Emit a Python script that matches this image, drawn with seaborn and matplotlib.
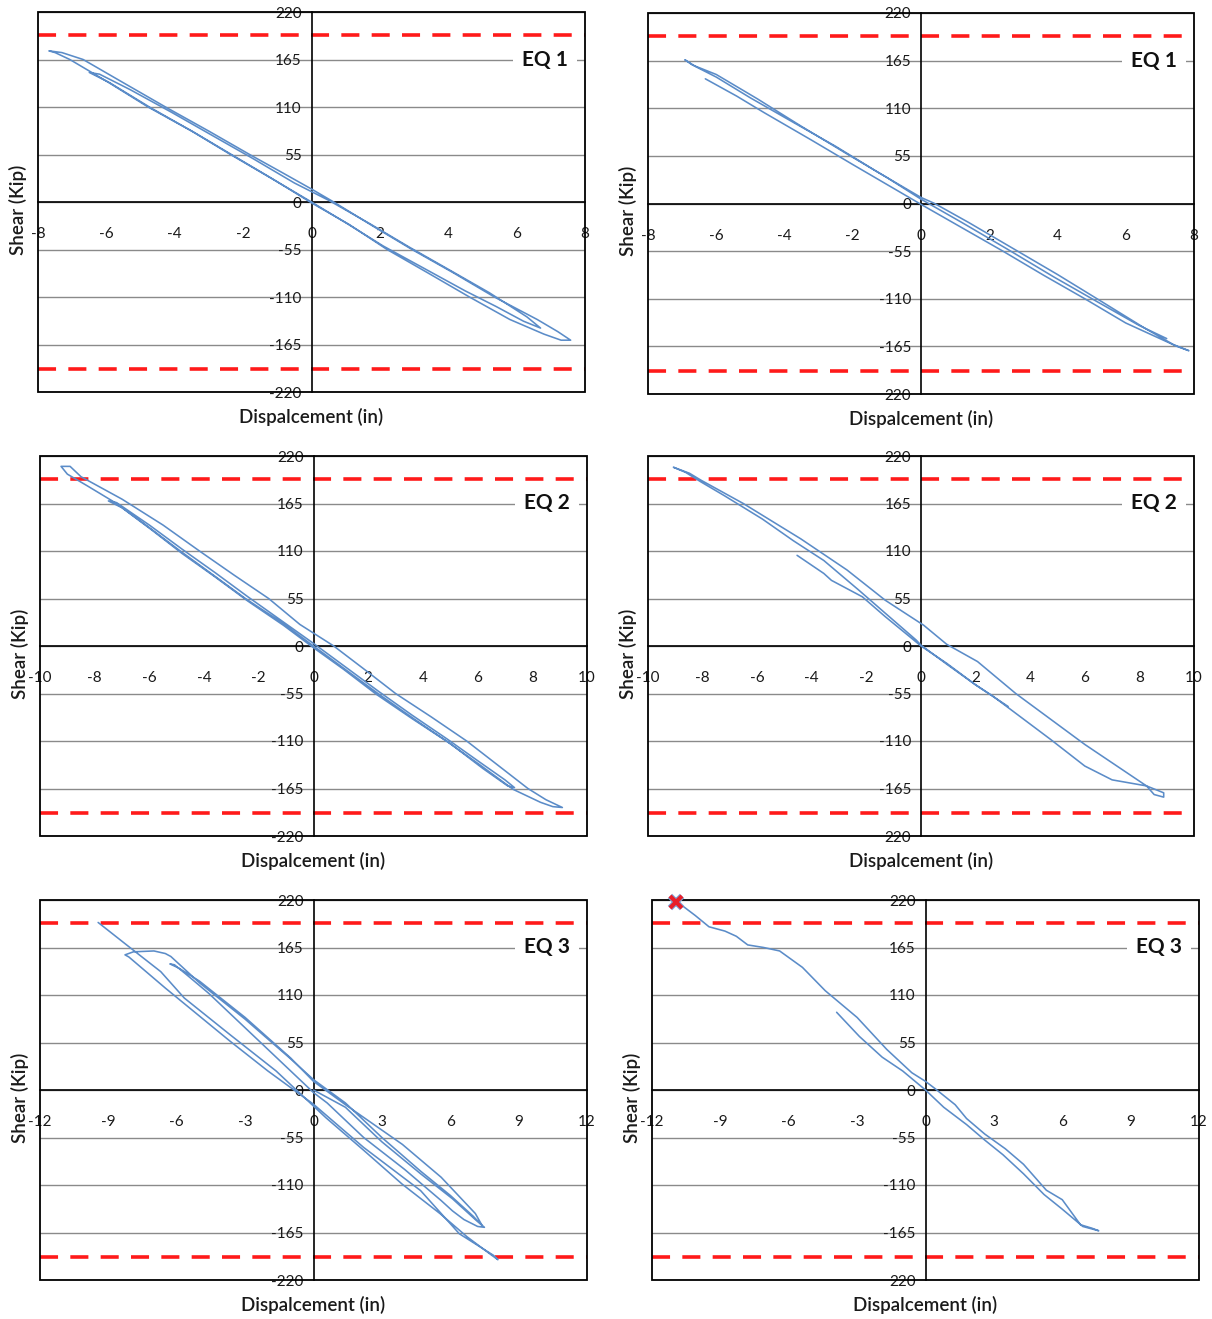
import numpy as np
import pandas as pd
import matplotlib
matplotlib.use("Agg")
import matplotlib.pyplot as plt
import matplotlib.patheffects as pe
from matplotlib.patches import Rectangle
from matplotlib.transforms import blended_transform_factory
import seaborn as sns

sns.set_theme(style="white")
plt.rcParams["font.family"] = ["Lato", "DejaVu Sans"]
plt.rcParams["axes.unicode_minus"] = False

# ---- hysteresis traces: displacement (in) / shear (kip) ----
eq1_left_disp = [0, -1.2, -2.37, -3.5, -4.78, -6.0, -7.07, -7.5, -7.68, -7.3, -6.68, -5.5, -4.27,
                 -3.0, -1.81, -0.9, 0, 0.65, 1.8, 2.94, 4.15, 5.35, 6.6, 7.2, 7.58, 7.3, 6.8,
                 5.8, 4.62, 3.4, 2.21, 1.1, 0, -1.15, -2.3, -3.45, -4.7, -5.9, -6.5, -6.2,
                 -5.3, -4.1, -2.9, -1.7, -0.5, 0.5, 1.7, 2.85, 4.05, 5.2, 6.3, 6.7, 6.2, 5.4,
                 4.5, 3.3, 2.1, 1.0, 0]
eq1_left_shear = [0, 28, 55, 82, 110, 140, 165, 173, 175, 173, 165, 138, 110,
                  82, 55, 35, 15, 0, -28, -55, -82, -110, -136, -150, -160, -160, -153,
                  -136, -110, -82, -55, -26, -1, 27, 54, 81, 109, 138, 150, 148,
                  130, 104, 77, 50, 22, 2, -25, -52, -79, -105, -133, -146, -138, -121,
                  -103, -77, -51, -24, 0]

eq1_right_disp = [-6.32, -5.4, -4.6, -3.2, -2.0, -1.0, 0, 1.2, 2.4, 3.6, 4.8, 6.0, 7.0, 7.5,
                  7.85, 7.4, 6.6, 5.2, 4.0, 2.7, 1.4, 0.4, 0, -1.3, -2.5, -3.8, -5.0, -6.0,
                  -6.6, -6.92, -6.7, -6.0, -4.8, -3.5, -2.2, -1.0, 0, 1.2, 2.5, 3.9, 5.1,
                  6.4, 7.2]
eq1_right_shear = [144, 124, 105, 73, 45, 22, -1, -28, -55, -83, -110, -138, -156, -165,
                   -170, -163, -145, -111, -82, -52, -22, 0, 7, 37, 66, 95, 122, 146,
                   158, 166, 160, 149, 121, 89, 58, 30, 5, -22, -52, -85, -112,
                   -141, -156]

eq2_left_disp = [0, -1.2, -2.49, -3.7, -4.87, -6.0, -7.2, -8.3, -9.0, -9.23, -8.9, -8.5, -7.0,
                 -5.5, -4.17, -2.9, -1.64, -0.5, 0.74, 1.9, 3.0, 4.3, 5.6, 6.7, 7.84, 8.5, 9.1,
                 8.75, 8.3, 7.3, 6.1, 4.9, 3.6, 2.3, 1.1, 0, -1.1, -2.4, -3.6, -4.8, -5.9,
                 -7.0, -7.5, -7.2, -6.0, -4.8, -3.6, -2.4, -1.2, 0, 1.2, 2.4, 3.6, 4.9, 6.1,
                 7.0, 7.35, 7.1, 6.2, 5.0, 3.7, 2.4, 1.2, 0]
eq2_left_shear = [0, 28, 55, 83, 110, 137, 165, 186, 199, 208, 208, 196, 170,
                  140, 110, 82, 55, 25, 0, -28, -55, -82, -110, -137, -165, -178, -187,
                  -186, -181, -166, -138, -111, -84, -56, -27, -2, 24, 52, 80, 107, 134,
                  160, 168, 166, 140, 112, 85, 57, 30, 3, -25, -53, -80, -108, -135,
                  -155, -164, -162, -142, -113, -85, -56, -28, 0]

eq2_right_disp = [-4.54, -3.56, -3.28, -2.15, -1.31, 0, 0.94, 2.0, 2.63, 4.74, 6.0, 7.0, 8.26,
                  8.89, 8.89, 8.54, 8.26, 6.0, 3.47, 2.07, 0.94, 0.1, -1.31, -2.71, -4.4,
                  -6.51, -8.06, -8.48, -9.07, -8.62, -8.06, -7.2, -5.81, -4.68, -3.56, -2.29,
                  -1.31, -0.18, 0, 0.94, 2.0, 3.19]
eq2_right_shear = [105, 84, 76, 57, 34, 0, -20, -45, -58, -108, -139, -155, -162,
                   -170, -175, -172, -162, -114, -55, -18, 2, 24, 53, 88, 124,
                   165, 192, 200, 207, 201, 190, 174, 147, 122, 99, 65,
                   38, 7, 1, -21, -45, -70]

eq3_left_disp = [0, 1.4, 3.0, 4.7, 6.1, 7.1, 7.5, 7.2, 6.6, 6.1, 5.6, 4.0, 2.2, 0.6, 0,
                 -1.0, -3.0, -4.6, -5.5, -6.1, -6.3, -5.9, -5.0, -3.0, -1.0, 0,
                 1.4, 3.9, 5.6, 7.1, 7.4,
                 7.0, 6.0, 4.7, 3.0, 1.4, 0, -1.0, -3.0, -5.0, -6.26, -6.5, -7.0, -7.9, -8.27,
                 -8.1, -6.5, -3.66, -2.0, 0, 2.2, 4.7, 6.4, 7.9, 8.09, 7.75, 6.74, 5.57, 3.89,
                 2.21, 0.54, -1.64, -3.66, -5.67, -6.7, -8.2, -9.45]
eq3_left_shear = [0, -20, -60, -97, -126, -150, -159, -158, -150, -140, -128, -92, -55, -15, -3,
                  22, 72, 112, 132, 145, 146, 141, 126, 84, 37, 10,
                  -17, -63, -101, -143, -157,
                  -146, -122, -94, -55, -15, 12, 36, 82, 124, 154.6, 158, 161, 160, 156.5,
                  154, 118, 56.5, 22, -16.5, -66.5, -116.5, -166.5, -191.5, -196.5, -190, -170, -143.5, -109,
                  -70, -32, 22, 64, 106.5, 137, 168, 194]

eq3_right_disp = [-3.9, -2.9, -1.9, -1.0, 0, 0.8, 1.8, 2.6, 3.4, 4.3, 5.2, 6.0, 6.9, 7.6,
                  7.3, 6.8, 6.0, 5.3, 4.3, 3.5, 2.6, 1.8, 1.3, 0.4, 0, -0.6, -1.7, -3.0,
                  -4.4, -5.4, -6.4, -7.1, -7.8, -8.3, -8.8, -9.5, -10.1, -10.6, -10.94]
eq3_right_shear = [90, 62, 38, 22, 0, -20, -40, -58, -75, -97, -121, -138, -158, -163,
                   -160, -156, -127, -116, -86, -68, -51, -33, -17, 2, 10, 20, 47, 84,
                   115, 142, 161, 165, 168, 178, 184, 189, 202, 212, 217.5]

# failure point at the end of the last record
failure_disp = [-10.94]
failure_shear = [217.5]

panel_titles = ["EQ 1", "EQ 1", "EQ 2", "EQ 2", "EQ 3", "EQ 3"]
panel_traces = [(eq1_left_disp, eq1_left_shear), (eq1_right_disp, eq1_right_shear),
                (eq2_left_disp, eq2_left_shear), (eq2_right_disp, eq2_right_shear),
                (eq3_left_disp, eq3_left_shear), (eq3_right_disp, eq3_right_shear)]
x_limits = [8, 8, 10, 10, 12, 12]
x_steps = [2, 2, 2, 2, 3, 3]
shear_ticks = [-220, -165, -110, -55, 0, 55, 110, 165, 220]
shear_capacity = 193

W, H = 1212, 1319
fig = plt.figure(figsize=(W / 100, H / 100), dpi=100)

# axes boxes in pixels: left, top, right, bottom
boxes = [(38, 12, 585, 392), (648, 13, 1194, 394),
         (40, 456, 587, 836), (648, 456, 1194, 836),
         (40, 900, 587, 1280), (652, 900, 1199, 1280)]

line_color = "#5b8cc8"
tick_font = dict(family=["Lato", "DejaVu Sans"], size=13, weight="semibold")

for i, (l, t, r, b) in enumerate(boxes):
    ax = fig.add_axes([l / W, 1 - b / H, (r - l) / W, (b - t) / H])
    disp, shear = panel_traces[i]
    df = pd.DataFrame({"disp": disp, "shear": shear})
    sns.lineplot(data=df, x="disp", y="shear", sort=False, estimator=None,
                 color=line_color, lw=1.15, ax=ax, zorder=4)

    xl = x_limits[i]
    ax.set_xlim(-xl, xl)
    ax.set_ylim(-220, 220)
    xt = np.arange(-xl, xl + 0.1, x_steps[i])
    ax.set_xticks(xt)
    ax.set_xticklabels([f"{v:g}" for v in xt], **tick_font)
    ax.set_yticks(shear_ticks)
    ylabels = [str(v) for v in shear_ticks]
    if i % 2 == 1:
        ylabels[0] = "220"
    ax.set_yticklabels(ylabels, **tick_font)

    ax.yaxis.grid(True, color="#8a8a8a", lw=1.0)
    ax.xaxis.grid(False)
    ax.set_axisbelow(True)

    # axes crossing at the origin, with a frame round the plot
    for side in ("left", "bottom"):
        ax.spines[side].set_position(("data", 0))
        ax.spines[side].set_color("black")
        ax.spines[side].set_linewidth(1.2)
        ax.spines[side].set_zorder(3)
    for side in ("top", "right"):
        ax.spines[side].set_visible(False)
    ax.add_patch(Rectangle((0, 0), 1, 1, transform=ax.transAxes, fill=False,
                           ec="black", lw=1.3, clip_on=False, zorder=5))

    ax.tick_params(axis="x", direction="out", length=5, width=1.1, pad=13, colors="black")
    ax.tick_params(axis="y", direction="out", length=3, width=1.0, pad=4, colors="black")
    for lab in ax.get_xticklabels() + ax.get_yticklabels():
        lab.set_color("#1a1a1a")

    for level in (shear_capacity, -shear_capacity):
        ax.axhline(level, color="#ff1a1a", ls=(0, (5, 3.4)), lw=2.6, zorder=3)

    trans = blended_transform_factory(ax.transAxes, ax.transData)
    ax.text(0.927, 165, panel_titles[i], transform=trans, ha="center", va="center",
            fontsize=15, fontweight="bold", color="#111111", zorder=6,
            bbox=dict(boxstyle="square,pad=0.45", fc="white", ec="none"))

    ax.set_xlabel("Dispalcement (in)", fontsize=13.5, fontweight="semibold", color="#1a1a1a")
    ax.set_ylabel("Shear (Kip)", fontsize=13.5, fontweight="semibold", color="#1a1a1a")
    ax.xaxis.set_label_coords(0.5, -0.042)
    ax.yaxis.set_label_coords(-0.021, 0.48)

    if i == 5:
        ax.plot(failure_disp, failure_shear, ls="none", marker="x", ms=9, mew=3,
                color="#e8202a", zorder=7, clip_on=False,
                path_effects=[pe.Stroke(linewidth=4.5, foreground="#7ea6d8"), pe.Normal()])

fig.savefig("out.png", dpi=100, facecolor="white")
